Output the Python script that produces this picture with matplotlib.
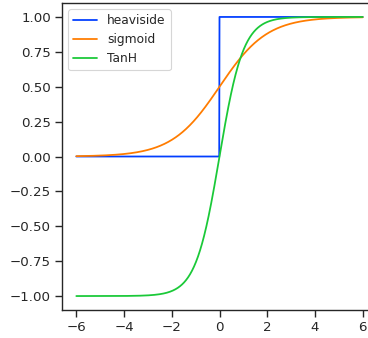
import numpy as np
import matplotlib
matplotlib.use("Agg")
import matplotlib.pyplot as plt
import seaborn as sns

sns.set_theme(style="ticks", context="notebook")
plt.rcParams['font.family'] = ['DejaVu Sans']

x = np.linspace(-6, 6, 1001)
labels = ["heaviside", "sigmoid", "TanH"]
colors = ["#023eff", "#ff7c00", "#1ac938"]

heaviside = np.heaviside(x, 1.0)
sigmoid = 1.0 / (1.0 + np.exp(-x))
tanh = np.tanh(x)
series = [heaviside, sigmoid, tanh]

DPI = 80
fig = plt.figure(figsize=(368/DPI, 338/DPI), dpi=DPI)
ax = fig.add_axes([62/368, 28/338, (377-62)/368, (335-28)/338])
for y, lab, c in zip(series, labels, colors):
    ax.plot(x, y, label=lab, color=c, linewidth=1.6)
ax.set_xticks([-6, -4, -2, 0, 2, 4, 6])
ax.set_yticks([-1.0, -0.75, -0.5, -0.25, 0.0, 0.25, 0.5, 0.75, 1.0])
ax.tick_params(labelsize=12, length=6.3)
ax.legend(loc="upper left", fontsize=11)
fig.savefig("out.png", dpi=DPI)
